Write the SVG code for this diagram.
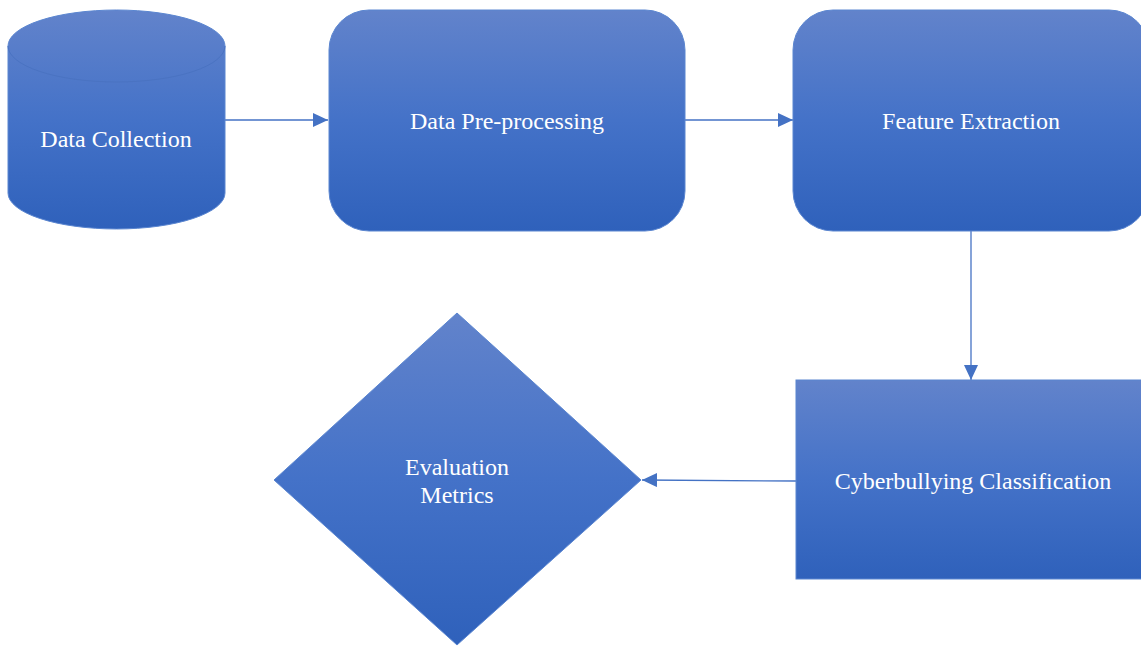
<svg xmlns="http://www.w3.org/2000/svg" width="1141" height="646" viewBox="0 0 1141 646">
<defs>
<linearGradient id="g" x1="0" y1="0" x2="0" y2="1">
<stop offset="0" stop-color="#6283CB"/>
<stop offset="0.5" stop-color="#4472C8"/>
<stop offset="1" stop-color="#2F61BB"/>
</linearGradient>
<marker id="arr" markerWidth="15" markerHeight="14" refX="15" refY="7" orient="auto" markerUnits="userSpaceOnUse" viewBox="0 0 15 14">
<path d="M0,0 L15,7 L0,14 Z" fill="#4472C4"/>
</marker>
<style>
.shape{fill:url(#g);stroke:#5B86D0;stroke-width:1}
.lbl{font-family:"Liberation Serif","Times New Roman",serif;font-size:24px;fill:#FFFFFF;text-anchor:middle}
.conn{stroke:#4472C4;stroke-width:1.3;fill:none;marker-end:url(#arr)}
</style>
</defs>
<g id="connectors">
<line class="conn" x1="225" y1="120" x2="328" y2="120"/>
<line class="conn" x1="685" y1="120" x2="793" y2="120"/>
<line class="conn" x1="971" y1="231" x2="971" y2="380"/>
<line class="conn" x1="796" y1="481" x2="642" y2="480"/>
</g>
<g id="data-collection">
<path class="shape" d="M8,46 A108.5,36 0 0 1 225,46 L225,193 A108.5,36 0 0 1 8,193 Z"/>
<path d="M8,46 A108.5,36 0 0 0 225,46" fill="none" stroke="#4A73C2" stroke-width="1"/>
<text class="lbl" x="116" y="147">Data Collection</text>
</g>
<g id="data-preprocessing">
<rect class="shape" x="329" y="10" width="356" height="221" rx="40" ry="40"/>
<text class="lbl" x="507" y="129">Data Pre-processing</text>
</g>
<g id="feature-extraction">
<rect class="shape" x="793" y="10" width="356" height="221" rx="40" ry="40"/>
<text class="lbl" x="971" y="129">Feature Extraction</text>
</g>
<g id="cyberbullying-classification">
<rect class="shape" x="796" y="380" width="360" height="199"/>
<text class="lbl" x="973" y="489">Cyberbullying Classification</text>
</g>
<g id="evaluation-metrics">
<polygon class="shape" points="457,313 641,480 457,645 274,480"/>
<text class="lbl" x="457" y="475">Evaluation</text>
<text class="lbl" x="457" y="503">Metrics</text>
</g>
</svg>
